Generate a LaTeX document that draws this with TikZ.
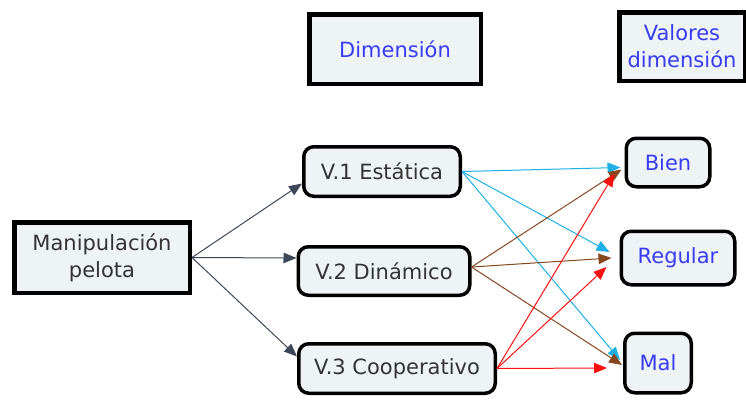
\documentclass[tikz,border=0pt]{standalone}
\usepackage{fontspec}
\setmainfont{DejaVu Sans}
\usetikzlibrary{arrows.meta}

\definecolor{boxfill}{HTML}{EEF3F6}
\definecolor{textgray}{HTML}{333333}
\definecolor{textblue}{HTML}{3A3AF2}
\definecolor{linkgray}{HTML}{3C4858}
\definecolor{linkcyan}{HTML}{1CB0E6}
\definecolor{linkbrown}{HTML}{86471F}
\definecolor{linkred}{HTML}{FF1010}

\begin{document}
\begin{tikzpicture}[x=1pt,y=-1pt,
   font=\fontsize{21}{27}\selectfont,
   titlebox/.style={draw=black,line width=4.5pt,fill=boxfill,inner sep=0pt,align=center},
   itembox/.style={draw=black,line width=3.5pt,fill=boxfill,rounded corners=10pt,inner sep=0pt,align=center},
   link/.style={line width=1pt,-{Triangle[length=13pt,width=10.5pt]}}]
   \useasboundingbox (0,0) rectangle (746,399);

   % cabeceras
   \node[titlebox,text=textgray,minimum width=175.5pt,minimum height=70.5pt] (manip) at (102,257.5) {Manipulación\\pelota};
   \node[titlebox,text=textblue,minimum width=171.5pt,minimum height=69.5pt] (dim) at (395,49) {Dimensión};
   \node[titlebox,text=textblue,minimum width=125.5pt,minimum height=68.5pt] (valores) at (682,46.5) {Valores\\dimensión};

   % variables
   \node[itembox,text=textgray,minimum width=156.5pt,minimum height=49.5pt] (v1) at (382,171.5) {V.1 Estática};
   \node[itembox,text=textgray,minimum width=171.5pt,minimum height=48.5pt] (v2) at (384,271) {V.2 Dinámico};
   \node[itembox,text=textgray,minimum width=196.5pt,minimum height=49.5pt] (v3) at (397,368.5) {V.3 Cooperativo};

   % valores
   \node[itembox,text=textblue,minimum width=83.5pt,minimum height=48.5pt] (bien) at (668,162.5) {Bien};
   \node[itembox,text=textblue,minimum width=113.5pt,minimum height=53.5pt] (regular) at (678,258) {Regular};
   \node[itembox,text=textblue,minimum width=66.5pt,minimum height=59.5pt] (mal) at (658,363) {Mal};

   \draw[link,linkgray] (manip.east) -- ([yshift=-12pt]v1.west);
   \draw[link,linkgray] (manip.east) -- ([yshift=13pt]v2.west);
   \draw[link,linkgray] (manip.east) -- ([yshift=12pt]v3.west);

   \draw[link,linkcyan] (v1.east) -- ([xshift=-4pt,yshift=-5pt]bien.west);
   \draw[link,linkcyan] (v1.east) -- ([xshift=-10pt,yshift=6pt]regular.west);
   \draw[link,linkcyan] (v1.east) -- ([xshift=-3pt,yshift=3pt]mal.west);

   \draw[link,linkbrown] ([yshift=4pt]v2.east) -- ([xshift=-3pt,yshift=-7pt]bien.west);
   \draw[link,linkbrown] ([yshift=4pt]v2.east) -- ([xshift=-8pt,yshift=0pt]regular.west);
   \draw[link,linkbrown] ([yshift=4pt]v2.east) -- ([xshift=-1pt,yshift=-2pt]mal.west);

   \draw[link,linkred] (v3.east) -- ([xshift=-10pt,yshift=-11pt]bien.west);
   \draw[link,linkred] (v3.east) -- ([xshift=-13pt,yshift=-9pt]regular.west);
   \draw[link,linkred] (v3.east) -- ([xshift=-16pt,yshift=-5pt]mal.west);
\end{tikzpicture}
\end{document}
